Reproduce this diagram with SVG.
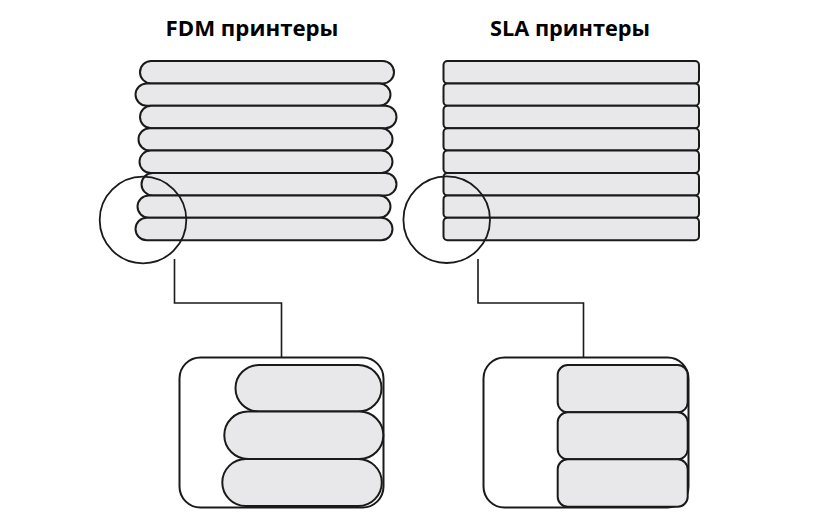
<svg xmlns="http://www.w3.org/2000/svg" width="830" height="532" viewBox="0 0 830 532">
<style>
.t{font-family:"Open Sans","DejaVu Sans",sans-serif;font-weight:bold;font-size:21px;fill:#000;text-anchor:middle}
.lay{fill:#e8e8ea;stroke:#1a1a1a;stroke-width:2}
.box{fill:#fff;stroke:#1a1a1a;stroke-width:2}
.ring{fill:none;stroke:#1a1a1a;stroke-width:1.8}
.con{fill:none;stroke:#1a1a1a;stroke-width:1.6}
</style>
<rect width="830" height="532" fill="#fff"/>
<g id="title-fdm"><text class="t" x="252" y="36" textLength="173" lengthAdjust="spacingAndGlyphs">FDM принтеры</text></g>
<g id="title-sla"><text class="t" x="570" y="36" textLength="160" lengthAdjust="spacingAndGlyphs">SLA принтеры</text></g>
<g id="fdm-stack">
<rect class="lay" x="140" y="61" width="254" height="22.4" rx="11.2"/>
<rect class="lay" x="135.5" y="83.4" width="255" height="22.4" rx="11.2"/>
<rect class="lay" x="140" y="105.8" width="256.5" height="22.4" rx="11.2"/>
<rect class="lay" x="138.5" y="128.2" width="254" height="22.4" rx="11.2"/>
<rect class="lay" x="139.5" y="150.6" width="253" height="22.4" rx="11.2"/>
<rect class="lay" x="141.5" y="173" width="255" height="22.4" rx="11.2"/>
<rect class="lay" x="137.5" y="195.4" width="253" height="22.4" rx="11.2"/>
<rect class="lay" x="135.5" y="217.8" width="257" height="22.4" rx="11.2"/>
</g>
<g id="sla-stack">
<rect class="lay" x="443.5" y="61" width="255.5" height="22.4" rx="4"/>
<rect class="lay" x="443.5" y="83.4" width="255.5" height="22.4" rx="4"/>
<rect class="lay" x="443.5" y="105.8" width="255.5" height="22.4" rx="4"/>
<rect class="lay" x="443.5" y="128.2" width="255.5" height="22.4" rx="4"/>
<rect class="lay" x="443.5" y="150.6" width="255.5" height="22.4" rx="4"/>
<rect class="lay" x="443.5" y="173" width="255.5" height="22.4" rx="4"/>
<rect class="lay" x="443.5" y="195.4" width="255.5" height="22.4" rx="4"/>
<rect class="lay" x="443.5" y="217.8" width="255.5" height="22.4" rx="4"/>
</g>
<g id="fdm-circle"><circle class="ring" cx="143" cy="220" r="43.3"/></g>
<g id="sla-circle"><circle class="ring" cx="446.7" cy="219.7" r="43.3"/></g>
<g id="connectors">
<path class="con" d="M174.5 259 V303 H281.5 V358"/>
<path class="con" d="M478 259 V303 H583.5 V358"/>
</g>
<g id="fdm-detail">
<rect class="box" x="179.5" y="357.5" width="204" height="150" rx="21"/>
<rect class="lay" x="235.5" y="365" width="146" height="46.5" rx="23.25"/>
<rect class="lay" x="224.3" y="411.5" width="159" height="47.5" rx="23.75"/>
<rect class="lay" x="222.3" y="459" width="159.5" height="47" rx="23.5"/>
</g>
<g id="sla-detail">
<rect class="box" x="483.5" y="357.5" width="205" height="150" rx="21"/>
<rect class="lay" x="557.7" y="365" width="130" height="47.3" rx="10"/>
<rect class="lay" x="557.7" y="412.3" width="130" height="47" rx="10"/>
<rect class="lay" x="557.7" y="459.3" width="130" height="47.4" rx="10"/>
</g>
</svg>
